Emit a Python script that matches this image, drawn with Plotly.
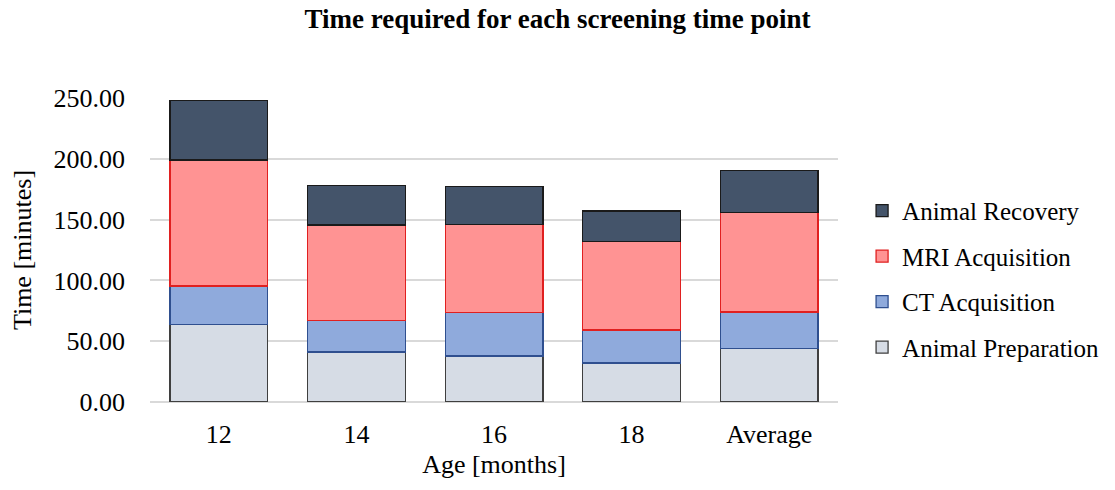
import plotly.graph_objects as go

# Screening time points and time spent per stage (minutes)
ages = ["12", "14", "16", "18", "Average"]
animal_preparation = [63.7, 41.0, 37.8, 32.0, 44.0]
ct_acquisition = [31.8, 26.0, 35.7, 27.3, 30.1]
mri_acquisition = [103.4, 78.5, 72.6, 72.8, 81.5]
animal_recovery = [49.0, 32.3, 31.2, 24.9, 34.5]

y_ticks = [0, 50, 100, 150, 200, 250]

# (name, values, fill, outline, legend position)
series = [
    ("Animal Preparation", animal_preparation, "#D6DCE5", "#3F3F3F", 4),
    ("CT Acquisition", ct_acquisition, "#8FAADC", "#2F4F8F", 3),
    ("MRI Acquisition", mri_acquisition, "#FF9393", "#E02020", 2),
    ("Animal Recovery", animal_recovery, "#44546A", "#1A1A1A", 1),
]

fig = go.Figure()
for name, vals, fill, edge, rank in series:
    fig.add_trace(go.Bar(
        x=ages, y=vals, name=name, legendgroup=name, legendrank=rank,
        marker=dict(color=fill, line=dict(color=edge, width=1.3)),
    ))

serif = "Liberation Serif, Times New Roman, serif"
fig.update_layout(
    barmode="stack",
    bargap=0.29,
    width=1115, height=490,
    margin=dict(l=150, r=277, t=98, b=88, autoexpand=False),
    paper_bgcolor="white", plot_bgcolor="white",
    font=dict(family=serif, size=26, color="#000000"),
    title=dict(text="<b>Time required for each screening time point</b>",
               x=0.5, xref="container", xanchor="center",
               y=0.963, yanchor="middle",
               font=dict(family=serif, size=27, color="#000000")),
    legend=dict(traceorder="grouped", tracegroupgap=10,
                x=1.035, xanchor="left", y=0.405, yanchor="middle",
                font=dict(family=serif, size=25, color="#000000"),
                itemwidth=30),
    showlegend=True,
)
fig.update_yaxes(
    range=[0, 250], tickvals=y_ticks, tickformat=".2f",
    showgrid=True, gridcolor="#D9D9D9", gridwidth=1.5,
    zeroline=True, zerolinecolor="#D9D9D9", zerolinewidth=1.5,
    showline=False, ticks="", ticklabelstandoff=24,
    title=dict(text="Time [minutes]", standoff=14,
               font=dict(family=serif, size=26)),
)
fig.update_xaxes(
    showline=False, ticks="", ticklabelstandoff=14,
    title=dict(text="Age [months]", standoff=6,
               font=dict(family=serif, size=26)),
)

fig.write_html("out.html")
